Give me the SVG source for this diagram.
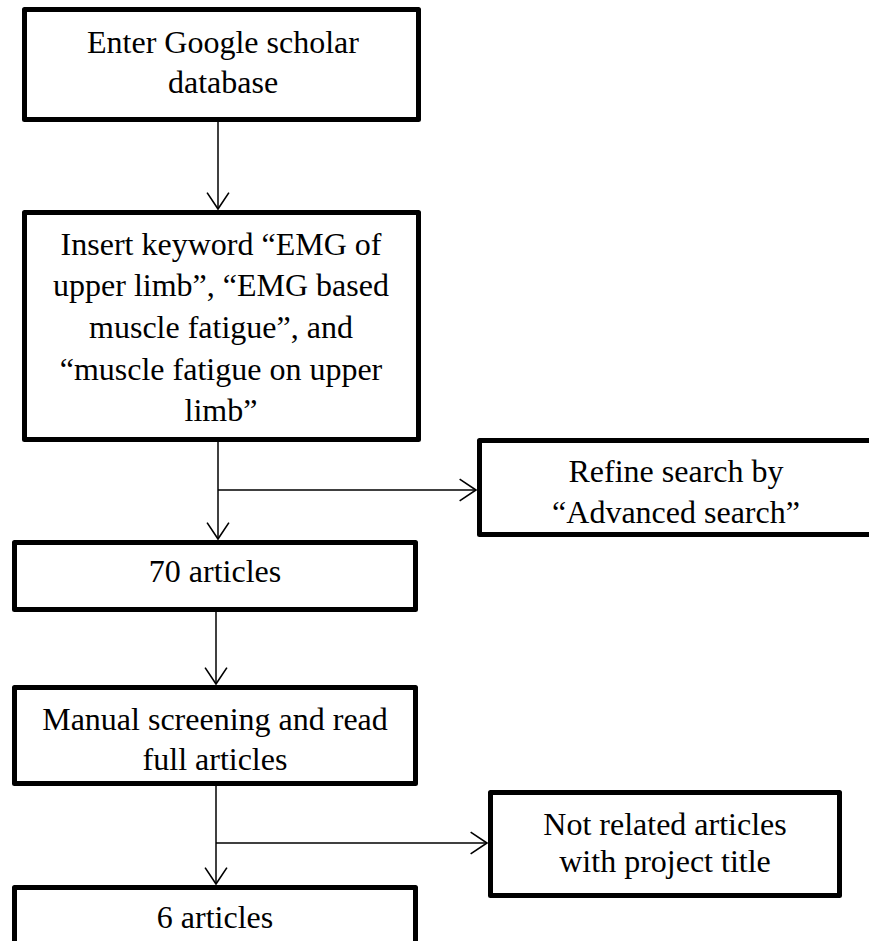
<svg xmlns="http://www.w3.org/2000/svg" width="869" height="941" viewBox="0 0 869 941">
<style>
.box{fill:#fff;stroke:#000;stroke-width:5;stroke-linejoin:round}
.t{font-family:"Liberation Serif","Times New Roman",serif;font-size:32px;fill:#000;text-anchor:middle}
.c{fill:none;stroke:#000;stroke-width:1.5}
</style>
<defs>
<marker id="ah" markerUnits="userSpaceOnUse" markerWidth="20" markerHeight="24" viewBox="-16 -11 18 22" refX="0" refY="0" orient="auto">
<path d="M-15,-10 L0,0 L-15,10" fill="none" stroke="#000" stroke-width="1.5"/>
</marker>
</defs>
<rect width="869" height="941" fill="#fff"/>
<g id="connectors">
<line class="c" x1="218" y1="122" x2="218" y2="209" marker-end="url(#ah)"/>
<line class="c" x1="218" y1="442" x2="218" y2="539" marker-end="url(#ah)"/>
<line class="c" x1="218" y1="490" x2="476" y2="490" marker-end="url(#ah)"/>
<line class="c" x1="216" y1="612" x2="216" y2="684" marker-end="url(#ah)"/>
<line class="c" x1="216" y1="786" x2="216" y2="884" marker-end="url(#ah)"/>
<line class="c" x1="216" y1="843" x2="487" y2="843" marker-end="url(#ah)"/>
</g>
<g id="n1">
<rect class="box" x="24.5" y="9.5" width="394" height="110"/>
<text class="t" x="223" y="53">Enter Google scholar</text>
<text class="t" x="223" y="93">database</text>
</g>
<g id="n2">
<rect class="box" x="24.5" y="212.5" width="394" height="227"/>
<text class="t" x="221" y="255">Insert keyword “EMG of</text>
<text class="t" x="221" y="296">upper limb”, “EMG based</text>
<text class="t" x="221" y="338">muscle fatigue”, and</text>
<text class="t" x="221" y="380">“muscle fatigue on upper</text>
<text class="t" x="221" y="421">limb”</text>
</g>
<g id="n3">
<rect class="box" x="479.5" y="440.5" width="400" height="94"/>
<text class="t" x="676" y="482">Refine search by</text>
<text class="t" x="676" y="523">“Advanced search”</text>
</g>
<g id="n4">
<rect class="box" x="14.5" y="542.5" width="401" height="67"/>
<text class="t" x="215" y="582">70 articles</text>
</g>
<g id="n5">
<rect class="box" x="14.5" y="687.5" width="401" height="96"/>
<text class="t" x="215" y="730">Manual screening and read</text>
<text class="t" x="215" y="770">full articles</text>
</g>
<g id="n6">
<rect class="box" x="490.5" y="792.5" width="349" height="103"/>
<text class="t" x="665" y="835">Not related articles</text>
<text class="t" x="665" y="872">with project title</text>
</g>
<g id="n7">
<rect class="box" x="14.5" y="887.5" width="401" height="80"/>
<text class="t" x="215" y="928">6 articles</text>
</g>
</svg>
